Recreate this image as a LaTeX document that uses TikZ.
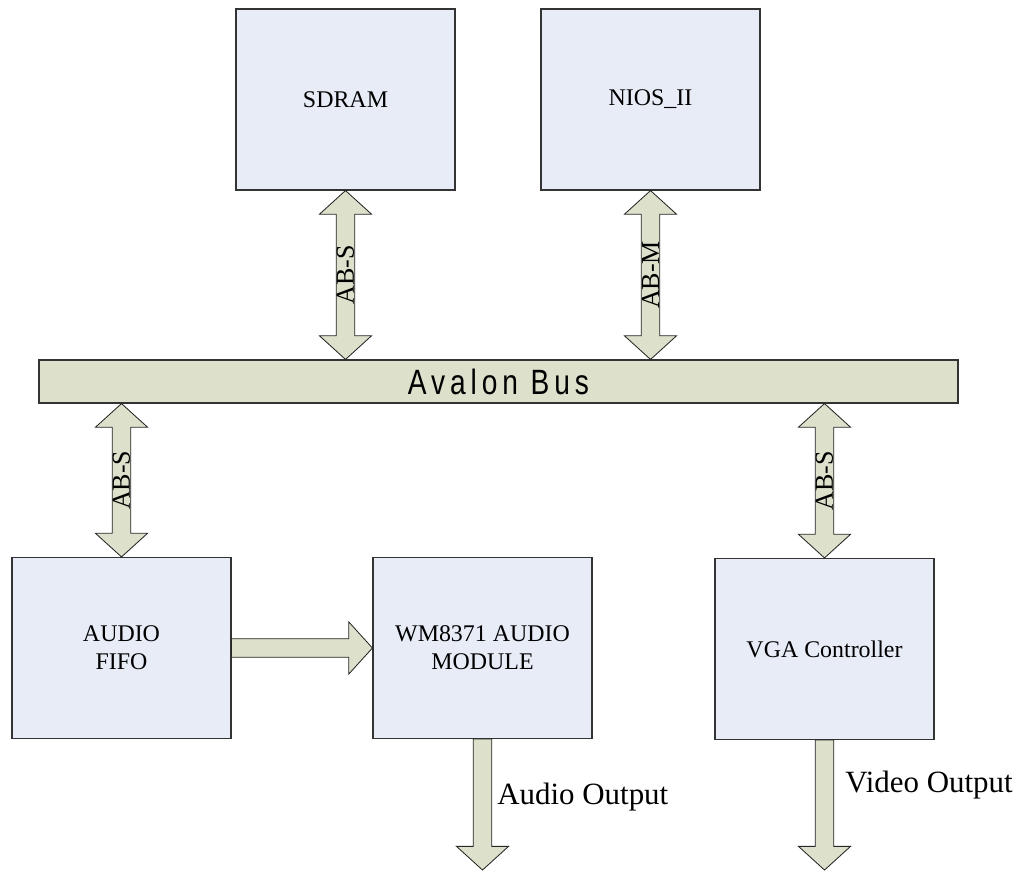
\documentclass[tikz,border=0pt]{standalone}
\usepackage{fontspec}
\setmainfont{Liberation Serif}
\newfontfamily\busfont[FakeStretch=0.8,LetterSpace=14]{Liberation Sans}
\usetikzlibrary{calc}

\definecolor{boxFill}{RGB}{232,236,247}
\definecolor{arrowFill}{RGB}{221,224,203}

%% sizes of the block arrows
\def\shaftW{6.6pt}
\def\headW{18.5pt}
\def\headL{16.8pt}

%% vertical arrow with a head at both ends
\newcommand{\dualArrow}[3]{%
  \draw[blockArrow] let \p1=(#1), \p2=(#2) in
    (\x1,\y1) -- (\x1+\headW,\y1-\headL) -- (\x1+\shaftW,\y1-\headL)
    -- (\x1+\shaftW,\y2+\headL) -- (\x1+\headW,\y2+\headL) -- (\x1,\y2)
    -- (\x1-\headW,\y2+\headL) -- (\x1-\shaftW,\y2+\headL)
    -- (\x1-\shaftW,\y1-\headL) -- (\x1-\headW,\y1-\headL) -- cycle
    (\x1,{(\y1+\y2)/2}) node[abLabel] {#3};}
%% vertical arrow pointing down
\newcommand{\outArrow}[2]{%
  \draw[blockArrow] let \p1=(#1), \p2=(#2) in
    (\x1-\shaftW,\y1) -- (\x1+\shaftW,\y1) -- (\x1+\shaftW,\y2+\headL)
    -- (\x1+\headW,\y2+\headL) -- (\x1,\y2) -- (\x1-\headW,\y2+\headL)
    -- (\x1-\shaftW,\y2+\headL) -- cycle;}
%% horizontal arrow pointing right
\newcommand{\rightArrow}[2]{%
  \draw[blockArrow] let \p1=(#1), \p2=(#2) in
    (\x1,\y1+\shaftW) -- (\x2-\headL,\y1+\shaftW) -- (\x2-\headL,\y1+\headW)
    -- (\x2,\y1) -- (\x2-\headL,\y1-\headW) -- (\x2-\headL,\y1-\shaftW)
    -- (\x1,\y1-\shaftW) -- cycle;}

\begin{document}
\begin{tikzpicture}
[x=0.025cm,y=-0.025cm,
  unitBox/.style={shape=rectangle,draw=black!80,fill=boxFill,line width=0.8pt,
    minimum width=219*0.025cm,minimum height=181*0.025cm,align=center,
    font=\fontsize{17}{20}\selectfont},%
  busBar/.style={shape=rectangle,draw=black!80,fill=arrowFill,line width=0.8pt,
    minimum width=919*0.025cm,minimum height=43*0.025cm,
    font=\busfont\fontsize{25}{28}\selectfont},%
  blockArrow/.style={draw=black!85,fill=arrowFill,line width=0.6pt},%
  abLabel/.style={rotate=90,inner sep=0pt,font=\fontsize{18.5}{20}\selectfont},%
  outLabel/.style={anchor=west,inner sep=0pt,font=\fontsize{22}{26}\selectfont}]
\useasboundingbox (0,0) rectangle (1017,880);
%% the blocks
\foreach \nodename/\x/\y/\txt in {sdram/345.5/99.5/SDRAM, nios/650.5/99.5/NIOS\_II,
  fifo/121.5/648/{AUDIO\\FIFO}, wm/482.5/648/{WM8371 AUDIO\\MODULE},
  vga/824.5/649/VGA Controller}
{
  \node (\nodename) at (\x,\y) [unitBox] {\txt};
}
%% the bus
\node (bus) at (498.5,381.5) [busBar] {Avalon Bus};
%% ends of the outputs
\coordinate (audioEnd) at (482.5,870);
\coordinate (videoEnd) at (824.5,870);
%% the bus arrows
\dualArrow{sdram.south}{bus.north -| sdram.south}{AB-S}
\dualArrow{nios.south}{bus.north -| nios.south}{AB-M}
\dualArrow{bus.south -| fifo.north}{fifo.north}{AB-S}
\dualArrow{bus.south -| vga.north}{vga.north}{AB-S}
%% data flow
\rightArrow{fifo.east}{wm.west}
\outArrow{wm.south}{audioEnd}
\outArrow{vga.south}{videoEnd}
\node (audioText) at (497,797) [outLabel] {Audio Output};
\node (videoText) at (845,785) [outLabel] {Video Output};
\end{tikzpicture}
\end{document}
